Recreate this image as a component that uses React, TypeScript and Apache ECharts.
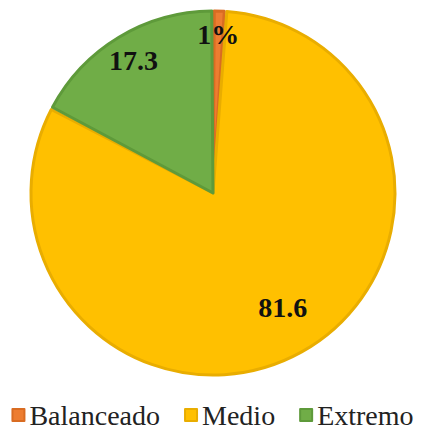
import React, { useEffect, useRef } from "react";
import * as echarts from "echarts";

const categories = ["Balanceado", "Medio", "Extremo"];
const values = [1.1, 81.6, 17.3];
const labels = ["1%", "81.6", "17.3"];
const colors = ["#ED7D31", "#FFC000", "#70AD47"];
const borderColors = ["#D96C22", "#E9AD00", "#5E9A3A"];
const labelShift = [
  [2, -65],
  [24, 32],
  [-31, -52],
];

const SERIF = "'Liberation Serif', 'Times New Roman', serif";

export default function App() {
  const ref = useRef<HTMLDivElement>(null);
  useEffect(() => {
    document.body.style.margin = "0";
    const chart = echarts.init(ref.current!, undefined, { renderer: "svg" });
    chart.setOption({
      animation: false,
      backgroundColor: "#ffffff",
      textStyle: { fontFamily: SERIF },
      legend: {
        data: categories,
        left: "center",
        top: 401,
        padding: 0,
        icon: "rect",
        itemWidth: 12,
        itemHeight: 12,
        itemGap: 24,
        textStyle: {
          fontFamily: SERIF,
          fontSize: 28,
          color: "#222",
        },
      },
      series: [
        {
          type: "pie",
          center: [213, 193],
          radius: [0, 182],
          startAngle: 90,
          clockwise: true,
          padAngle: 0.8,
          label: {
            show: true,
            position: "inside",
            formatter: (p: any) => labels[p.dataIndex],
            fontFamily: SERIF,
            fontWeight: "bold",
            fontSize: 28,
            color: "#111",
          },
          labelLine: { show: false },
          labelLayout: (p: any) => ({
            dx: labelShift[p.dataIndex][0],
            dy: labelShift[p.dataIndex][1],
          }),
          emphasis: { disabled: true },
          data: categories.map((c, i) => ({
            name: c,
            value: values[i],
            itemStyle: {
              color: colors[i],
              borderColor: borderColors[i],
              borderWidth: 3,
            },
          })),
        },
      ],
    });
    return () => chart.dispose();
  }, []);
  return (
    <div
      ref={ref}
      style={{ position: "absolute", left: 0, top: 0, width: 425, height: 430 }}
    />
  );
}
